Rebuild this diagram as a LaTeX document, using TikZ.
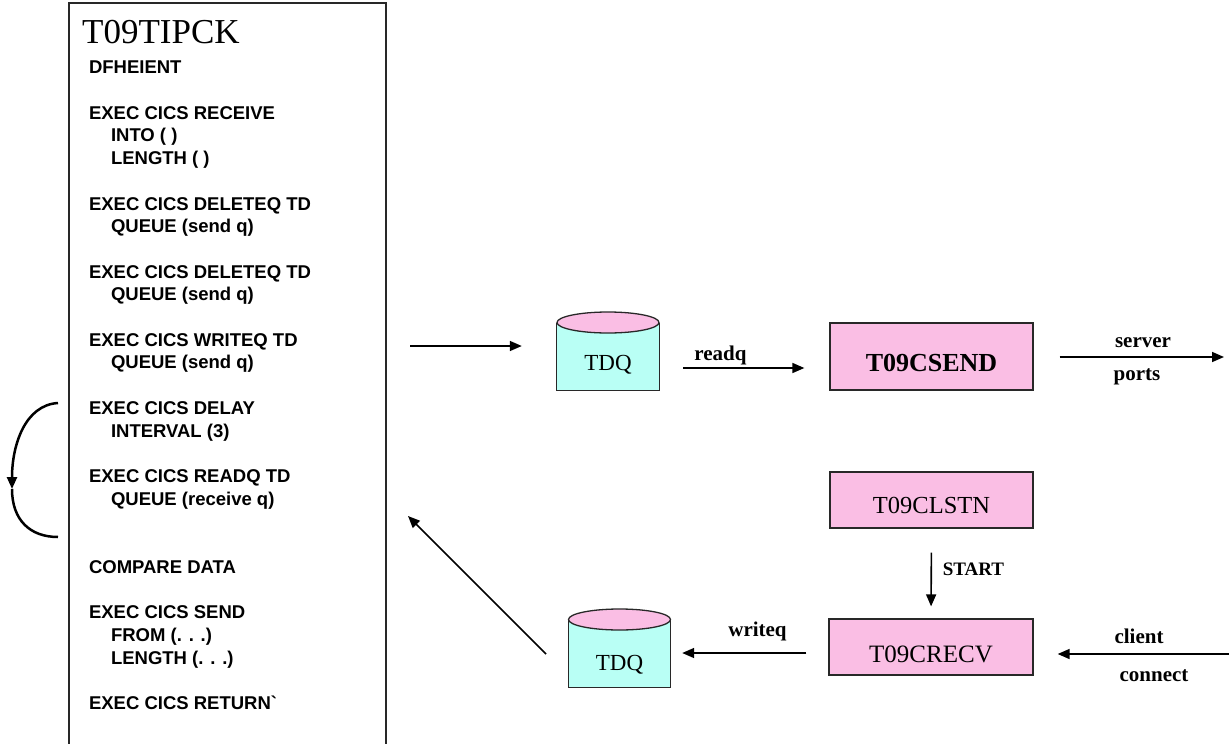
\documentclass[tikz,border=0pt]{standalone}
\usepackage{fontspec}
\setmainfont{Liberation Serif}
\newfontfamily\codefont{Liberation Sans}
\usetikzlibrary{arrows.meta,backgrounds}

\definecolor{boxpink}{RGB}{250,190,228}
\definecolor{drumcyan}{RGB}{185,255,245}
\definecolor{edge}{RGB}{40,40,40}

\begin{document}
\begin{tikzpicture}[x=1pt,y=-1pt,
  arr/.style={-{Triangle[length=12pt,width=10pt]}, line width=1.6pt},
  task/.style={draw=edge, line width=1.3pt, fill=boxpink, inner sep=0pt,
    minimum width=203pt, text depth=0pt},
  drum/.style={inner sep=0pt, text depth=0pt, font=\fontsize{23}{26}\selectfont},
  codeline/.style={anchor=base west, inner sep=0pt, font=\codefont\bfseries\fontsize{18.5}{22.7}\selectfont},
  lbl/.style={anchor=base, inner sep=0pt, font=\bfseries\fontsize{21}{24}\selectfont}]

\useasboundingbox (0,0) rectangle (1229,744);

% program listing box (runs past the lower edge)
\node (prog) [draw=edge, line width=1.3pt, inner sep=0pt, minimum width=317pt,
  minimum height=752pt] at (227.5,379) {};
\node (title) [anchor=base west, inner sep=0pt, font=\fontsize{35}{40}\selectfont]
  at (82,43.5) {T09TIPCK};

\foreach \k/\ind/\txt in {
  0/0/{DFHEIENT},
  2/0/{EXEC CICS RECEIVE},
  3/1/{INTO ( )},
  4/1/{LENGTH ( )},
  6/0/{EXEC CICS DELETEQ TD},
  7/1/{QUEUE (send q)},
  9/0/{EXEC CICS DELETEQ TD},
  10/1/{QUEUE (send q)},
  12/0/{EXEC CICS WRITEQ TD},
  13/1/{QUEUE (send q)},
  15/0/{EXEC CICS DELAY},
  16/1/{INTERVAL (3)},
  18/0/{EXEC CICS READQ TD},
  19/1/{QUEUE (receive q)},
  22/0/{COMPARE DATA},
  24/0/{EXEC CICS SEND},
  25/1/{FROM (. . .)},
  26/1/{LENGTH (. . .)},
  28/0/{EXEC CICS RETURN`}}
  \node (ln\k) [codeline] at ({88.8+22*\ind},{73.8+22.7*\k}) {\txt};

% delay / readq loop beside the listing
\coordinate (loopA) at (58,403);
\coordinate (loopM) at (12,489);
\coordinate (loopB) at (58,537);
\draw[line width=2.5pt, -{Triangle[length=12pt,width=10pt]}]
  (loopA) .. controls (25,405) and (12,445) .. (loopM);
\draw[line width=2.5pt]
  (loopM) .. controls (12,520) and (30,537) .. (loopB);

% queues
\node (tdq1) [drum, minimum width=102pt, minimum height=78pt, text height=39.2pt]
  at (608,351) {TDQ};
\node (tdq2) [drum, minimum width=101pt, minimum height=78pt, text height=45.2pt]
  at (619.5,648) {TDQ};

\begin{scope}[on background layer]
  \foreach \d/\ey in {tdq1/322.5, tdq2/619.5}{
    \fill[drumcyan] (\d.south west) rectangle (\d.east |- 0,\ey);
    \draw[edge, line width=1.3pt] (\d.west |- 0,\ey) -- (\d.south west)
      -- (\d.south east) -- (\d.east |- 0,\ey);
    \draw[edge, line width=1.3pt, fill=boxpink] (\d.north |- 0,\ey)
      ellipse [x radius=51pt, y radius=10.5pt];
  }
\end{scope}

% CICS tasks
\node (csend) [task, minimum height=67pt, text height=30.2pt,
  font=\bfseries\fontsize{26}{30}\selectfont] at (931.5,356.5) {T09CSEND};
\node (clstn) [task, minimum height=56pt, text height=26.2pt,
  font=\fontsize{24.5}{28}\selectfont] at (931.5,500) {T09CLSTN};
\node (crecv) [task, minimum width=204pt, minimum height=56pt, text height=30.5pt,
  font=\fontsize{25}{28}\selectfont] at (931,647) {T09CRECV};

% flows
\coordinate (feedIn) at (410,346);
\draw[arr, shorten >=35pt] (feedIn) -- (feedIn -| tdq1.west);

\draw[arr, shorten <=24pt, shorten >=25pt] (tdq1.east |- 0,368) -- (csend.west |- 0,368);
\node (readq) [lbl] at (720.5,360) {readq};

\coordinate (portsOut) at (1224,357);
\draw[arr, shorten <=26pt] (csend.east |- portsOut) -- (portsOut);
\node (server) [lbl] at (1143,347) {server};
\node (ports) [lbl] at (1137,380) {ports};

\draw[arr, shorten <=24pt, shorten >=12pt] (clstn.south) -- (crecv.north);
\node (start) [lbl, font=\bfseries\fontsize{19}{22}\selectfont] at (973.5,575) {START};

\coordinate (clientIn) at (1229,654);
\draw[arr, shorten >=24pt] (clientIn) -- (clientIn -| crecv.east);
\node (client) [lbl] at (1139,643) {client};
\node (connect) [lbl] at (1154,681) {connect};

\draw[arr, shorten <=22pt, shorten >=12pt] (crecv.west |- 0,653) -- (tdq2.east |- 0,653);
\node (writeq) [lbl] at (757.5,636) {writeq};

\coordinate (backOut) at (546,654);
\coordinate (backIn) at (408,516);
\draw[arr] (backOut) -- (backIn);

\end{tikzpicture}
\end{document}
